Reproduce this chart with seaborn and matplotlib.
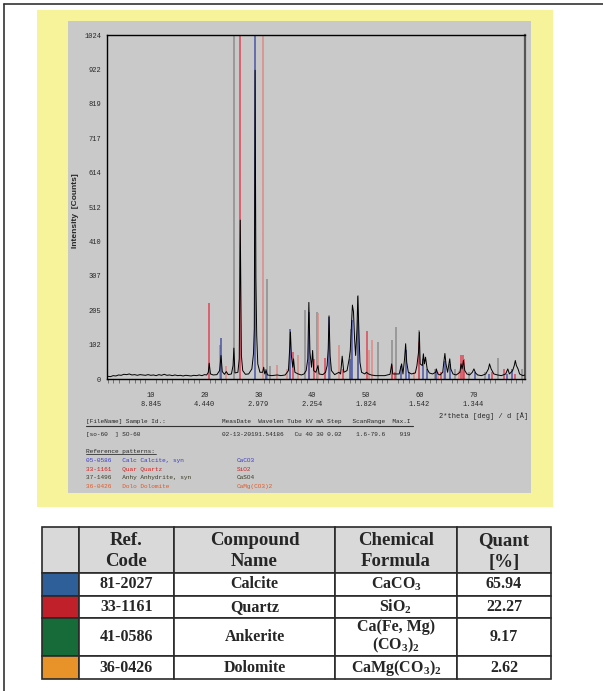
"""XRD pattern of sample SO-60 with phase table (recreated)."""

import matplotlib
matplotlib.use("Agg")
import matplotlib.pyplot as plt
import seaborn as sns
import pandas as pd
from matplotlib.patches import Rectangle
from matplotlib.ticker import MultipleLocator

trace = [
    (1.6, 5), (2.0, 8), (2.5, 7), (3.0, 10), (3.5, 9), (4.0, 12), (4.5, 11),
    (5.0, 14), (5.5, 13), (6.0, 15), (6.5, 12), (7.0, 13), (7.5, 11), (8.0, 13),
    (8.5, 12), (9.0, 11), (9.5, 13), (10.0, 11), (10.5, 12), (11.0, 10),
    (11.5, 13), (12.0, 11), (12.5, 14), (13.0, 11), (13.5, 12), (14.0, 10),
    (14.5, 12), (15.0, 10), (15.5, 11), (16.0, 9), (16.5, 11), (17.0, 10),
    (17.5, 9), (18.0, 11), (18.5, 10), (19.0, 12), (19.5, 10), (20.0, 13),
    (20.4, 12), (20.7, 20), (20.86, 47), (21.1, 15), (21.6, 12), (22.3, 13),
    (22.8, 25), (23.06, 70), (23.3, 22), (23.7, 14), (24.05, 22), (24.4, 13),
    (25.0, 15), (25.3, 40), (25.45, 92), (25.65, 18), (26.2, 20), (26.45, 60),
    (26.64, 473), (26.85, 70), (27.1, 25), (27.6, 14), (28.2, 15), (28.8, 30),
    (29.1, 75), (29.25, 150), (29.4, 919), (29.55, 300), (29.7, 130),
    (29.9, 45), (30.3, 20), (30.8, 20), (31.0, 35), (31.2, 15), (31.45, 25),
    (31.7, 12), (32.5, 10), (33.5, 12), (34.2, 10), (35.0, 12), (35.6, 25),
    (35.85, 95), (35.97, 140), (36.15, 70), (36.4, 35), (36.55, 60), (36.8, 20),
    (37.4, 15), (38.0, 12), (38.5, 15), (38.9, 25), (39.2, 60), (39.4, 228),
    (39.6, 80), (39.9, 35), (40.1, 85), (40.3, 25), (40.7, 20), (41.1, 40),
    (41.3, 15), (42.0, 13), (42.5, 20), (42.8, 40), (43.0, 90), (43.15, 188),
    (43.35, 70), (43.6, 25), (44.2, 13), (45.0, 20), (45.3, 15), (45.6, 68),
    (45.9, 20), (46.5, 25), (46.9, 60), (47.1, 85), (47.3, 150), (47.5, 220),
    (47.7, 200), (47.9, 120), (48.1, 70), (48.35, 150), (48.5, 246),
    (48.7, 150), (48.9, 50), (49.2, 20), (49.8, 15), (50.1, 20), (50.5, 15),
    (51.0, 12), (51.8, 10), (52.5, 10), (53.5, 10), (54.5, 14), (54.8, 45),
    (55.0, 15), (55.6, 15), (56.2, 15), (56.5, 35), (56.65, 45), (56.9, 15),
    (57.2, 60), (57.4, 105), (57.6, 50), (57.9, 20), (58.5, 15), (59.2, 18),
    (59.5, 40), (59.8, 80), (59.95, 140), (60.1, 45), (60.5, 40), (60.7, 75),
    (60.9, 45), (61.1, 65), (61.4, 30), (61.8, 18), (62.4, 15), (63.0, 20),
    (63.1, 30), (63.4, 15), (63.8, 12), (64.3, 20), (64.5, 50), (64.7, 76),
    (64.9, 45), (65.2, 20), (65.6, 60), (65.8, 30), (66.2, 15), (66.8, 12),
    (67.5, 20), (67.7, 45), (67.9, 30), (68.15, 55), (68.4, 25), (68.8, 15),
    (69.3, 12), (69.8, 20), (70.1, 30), (70.4, 18), (70.8, 12), (71.5, 10),
    (72.3, 15), (72.8, 30), (73.0, 45), (73.3, 30), (73.8, 15), (74.5, 12),
    (75.2, 10), (76.0, 15), (76.4, 30), (76.7, 15), (77.0, 20), (77.3, 25),
    (77.6, 40), (77.8, 55), (78.0, 40), (78.3, 30), (78.6, 15), (79.2, 10),
    (79.6, 12),
]

# reference sticks (position, height); tallest ones run off the top
calcite_pos = [23.06, 29.40, 31.42, 35.97, 39.40, 43.16, 47.12, 47.50, 48.51,
               56.57, 57.40, 58.09, 60.68, 61.35, 63.06, 64.67, 65.60, 70.24,
               72.94, 76.30, 77.15]
calcite_h = [122, 1024, 30, 150, 200, 185, 60, 175, 175, 40, 85, 20, 60, 30,
             25, 55, 45, 20, 15, 15, 30]
quartz_pos = [20.86, 26.64, 36.54, 39.47, 40.29, 42.45, 45.79, 50.14, 54.87,
              55.33, 59.96, 64.03, 67.74, 68.14, 68.31, 73.47, 75.66, 77.68]
quartz_h = [225, 1024, 80, 50, 60, 62, 30, 143, 42, 20, 110, 20, 70, 72, 60,
            20, 30, 15]
anhydrite_pos = [22.90, 25.45, 31.55, 32.20, 38.60, 40.85, 43.35, 47.30, 48.60,
                 52.30, 54.80, 55.70, 59.85, 62.90, 66.60, 69.20, 72.20, 74.60,
                 79.00]
anhydrite_h = [102, 1024, 297, 40, 205, 200, 50, 150, 250, 111, 115, 156, 146,
               30, 30, 20, 20, 62, 30]
dolomite_pos = [24.04, 30.94, 33.54, 35.34, 37.36, 41.14, 44.94, 50.54, 51.06,
                58.90, 63.40, 64.50, 67.40]
dolomite_h = [40, 1024, 42, 30, 71, 196, 101, 86, 116, 20, 20, 25, 25]

ytick_values = [0, 102.4, 204.8, 307.2, 409.6, 512, 614.4, 716.8, 819.2, 921.6, 1024]
ytick_labels = ["0", "102", "205", "307", "410", "512", "614", "717", "819", "922", "1024"]
xtick_values = [5, 10, 15, 20, 25, 30, 35, 40, 45, 50, 55, 60, 65, 70, 75]
d_spacing = ["", "8.845", "", "4.440", "", "2.979", "", "2.254", "", "1.824",
             "", "1.542", "", "1.344", ""]

# phase table
ref_codes = ["81-2027", "33-1161", "41-0586", "36-0426"]
compounds = ["Calcite", "Quartz", "Ankerite", "Dolomite"]
formulas = ["CaCO$_3$", "SiO$_2$", "Ca(Fe, Mg)\n(CO$_3$)$_2$", "CaMg(CO$_3$)$_2$"]
quant = ["65.94", "22.27", "9.17", "2.62"]
swatches = ["#2f5f98", "#c0202a", "#176b38", "#e8922a"]

W, H = 603, 691

sns.set_style("white")
plt.rcParams["mathtext.fontset"] = "custom"
plt.rcParams["mathtext.rm"] = "Liberation Serif:bold"
plt.rcParams["mathtext.it"] = "Liberation Serif:italic:bold"
plt.rcParams["mathtext.bf"] = "Liberation Serif:bold"


def frac(x0, y0, x1, y1):
    return [x0 / W, 1 - y1 / H, (x1 - x0) / W, (y1 - y0) / H]


fig = plt.figure(figsize=(W / 100, H / 100), dpi=100)
fig.patch.set_facecolor("white")

# background layer in pixel coordinates
bg = fig.add_axes([0, 0, 1, 1], zorder=0)
bg.set_xlim(0, W)
bg.set_ylim(H, 0)
bg.axis("off")
bg.plot([4, W], [3.5, 3.5], color="#333333", lw=1.2)
bg.plot([4, 4], [3.5, H], color="#333333", lw=1.2)
bg.add_patch(Rectangle((37, 10), 516, 497, facecolor="#f7f39b", edgecolor="none"))
bg.add_patch(Rectangle((68, 21), 463, 472, facecolor="#c9c9c9", edgecolor="none"))

# diffraction pattern
ax = fig.add_axes(frac(106.7, 35, 525, 379), zorder=1)
ax.set_facecolor("#c9c9c9")
ax.vlines(anhydrite_pos, 0, anhydrite_h, colors="#8c8c8c", lw=1.1, zorder=2)
ax.vlines(dolomite_pos, 0, dolomite_h, colors="#e08a84", lw=1.1, zorder=2)
ax.vlines(quartz_pos, 0, quartz_h, colors="#e04555", lw=1.1, zorder=2)
ax.vlines(calcite_pos, 0, calcite_h, colors="#4a55a8", lw=1.1, zorder=2)

df = pd.DataFrame(trace, columns=["two_theta", "counts"])
sns.lineplot(data=df, x="two_theta", y="counts", ax=ax, color="black",
             lw=0.7, estimator=None, sort=False, zorder=3)

ax.set_xlim(1.8, 79.6)
ax.set_ylim(0, 1024)
ax.set_xlabel("")
ax.set_ylabel("")
for side in ["left", "top", "bottom"]:
    ax.spines[side].set_color("black")
    ax.spines[side].set_linewidth(1.0)
ax.spines["right"].set_color("#555555")
ax.spines["right"].set_linewidth(1.6)

mono = "Liberation Mono"
ax.set_yticks(ytick_values, ytick_labels, fontsize=5, family=mono)
labels = [f"{v}\n{d}" if d else "" for v, d in zip(xtick_values, d_spacing)]
ax.set_xticks(xtick_values, labels, fontsize=5, family=mono)
for lab in ax.get_xticklabels():
    lab.set_linespacing(1.45)
ax.xaxis.set_minor_locator(MultipleLocator(1))
ax.tick_params(axis="y", direction="out", length=3, width=0.6, pad=1,
               color="black")
ax.tick_params(axis="x", which="major", direction="out", length=6, width=0.6,
               pad=3, color="#444444")
ax.tick_params(axis="x", which="minor", direction="out", length=3, width=0.6,
               color="#666666", bottom=True)

bg.text(528, 416, "2*theta [deg] / d [Å]", fontsize=5, family=mono,
        ha="right", va="center")
bg.text(75.5, 211, "Intensity  [Counts]", rotation=90, fontsize=6,
        family="Liberation Sans", fontweight="bold", ha="center", va="center")
bg.text(485, 72, "7", fontsize=27, family="Liberation Serif",
        fontweight="bold", ha="center", va="center")

# text block under the pattern
fs = 4.4
bg.text(86, 421.8, "[FileName] Sample Id.:", fontsize=fs, family=mono, va="center")
bg.text(221.6, 421.8, "MeasDate  Wavelen Tube kV mA Step   ScanRange  Max.I",
        fontsize=fs, family=mono, va="center")
bg.plot([86, 413], [425.5, 425.5], color="#333333", lw=0.8)
bg.text(86, 434, "[so-60  ] SO-60", fontsize=fs, family=mono, va="center")
bg.text(221.6, 434, "02-13-20191.54186   Cu 40 30 0.02    1.6-79.6    919",
        fontsize=fs, family=mono, va="center")
bg.text(86, 451, "Reference patterns:", fontsize=fs, family=mono, va="center")
bg.plot([86, 156], [454.3, 454.3], color="#333333", lw=0.6)

ref_rows = [
    ("05-0586   Calc Calcite, syn", "CaCO3", "#3c3cc8"),
    ("33-1161   Quar Quartz", "SiO2", "#d42020"),
    ("37-1496   Anhy Anhydrite, syn", "CaSO4", "#3a3a26"),
    ("36-0426   Dolo Dolomite", "CaMg(CO3)2", "#e05a28"),
]
for i, (left, formula, col) in enumerate(ref_rows):
    y = 460.5 + i * 8.5
    bg.text(86, y, left, fontsize=fs, family=mono, va="center", color=col)
    bg.text(236.8, y, formula, fontsize=fs, family=mono, va="center", color=col)

# phase table
col_x = [42, 79, 174, 335, 457, 551]
row_y = [527, 573, 596, 618, 656, 679]
edge = "#2a2a2a"
serif = "Liberation Serif"
for c in range(5):
    bg.add_patch(Rectangle((col_x[c], row_y[0]), col_x[c + 1] - col_x[c],
                           row_y[1] - row_y[0], facecolor="#d9d9d9",
                           edgecolor=edge, lw=1.2))
for r in range(4):
    for c in range(5):
        fc = swatches[r] if c == 0 else "white"
        bg.add_patch(Rectangle((col_x[c], row_y[r + 1]), col_x[c + 1] - col_x[c],
                               row_y[r + 2] - row_y[r + 1], facecolor=fc,
                               edgecolor=edge, lw=1.2))

headers = [("Ref.", "Code"), ("Compound", "Name"), ("Chemical", "Formula"),
           ("Quant", "[%]")]
for c, (l1, l2) in enumerate(headers, start=1):
    xc = (col_x[c] + col_x[c + 1]) / 2
    bg.text(xc, 540.5, l1, fontsize=13.5, family=serif, fontweight="bold",
            ha="center", va="center")
    bg.text(xc, 562, l2, fontsize=13.5, family=serif, fontweight="bold",
            ha="center", va="center")

for r in range(4):
    yc = (row_y[r + 1] + row_y[r + 2]) / 2
    cells = [ref_codes[r], compounds[r], formulas[r], quant[r]]
    for c, txt in enumerate(cells, start=1):
        xc = (col_x[c] + col_x[c + 1]) / 2
        bg.text(xc, yc, txt, fontsize=11.5, family=serif, fontweight="bold",
                ha="center", va="center", linespacing=1.0,
                multialignment="center")

fig.savefig("out.png", dpi=100)
plt.close(fig)
